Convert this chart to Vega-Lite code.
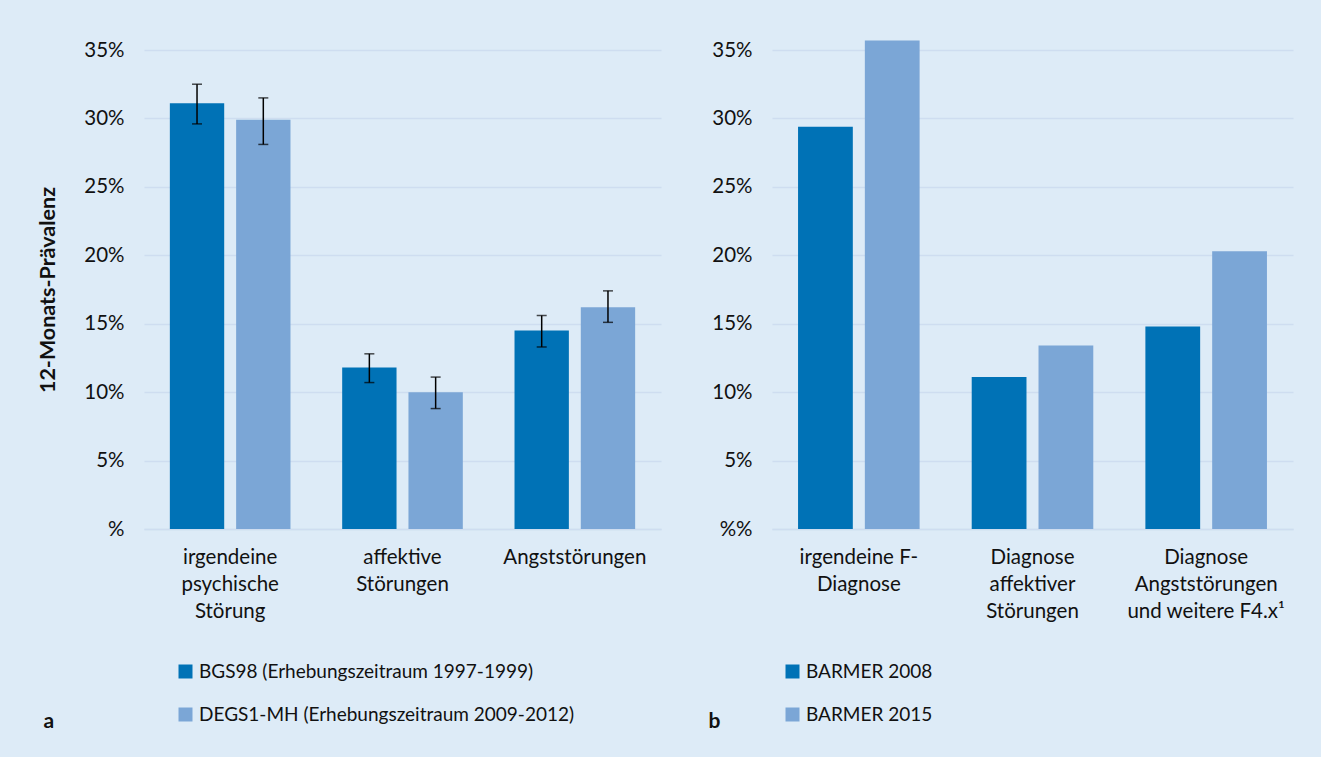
{
  "$schema": "https://vega.github.io/schema/vega-lite/v6.json",
  "background": "#DDEBF7",
  "padding": {"left": 37, "top": 40, "right": 29, "bottom": 28},
  "spacing": 47,
  "config": {
    "font": "Lato",
    "view": {"stroke": null},
    "axis": {
      "labelFontSize": 20.5,
      "labelColor": "#111111",
      "titleColor": "#111111",
      "ticks": false,
      "labelLimit": 400
    },
    "axisY": {
      "domain": false,
      "grid": true,
      "gridColor": "#CEDDF0",
      "gridWidth": 1.5,
      "labelPadding": 20,
      "titleFontSize": 21.5,
      "titleFontWeight": "bold",
      "titlePadding": 24
    },
    "axisX": {
      "domain": true,
      "domainColor": "#CEDDF0",
      "domainWidth": 1.5,
      "grid": false,
      "labelAngle": 0,
      "labelPadding": 18,
      "labelLineHeight": 27,
      "titleFontSize": 21,
      "titleFontWeight": "bold",
      "titleAlign": "left",
      "titleBaseline": "alphabetic"
    },
    "legend": {
      "orient": "none",
      "direction": "vertical",
      "symbolType": "square",
      "symbolSize": 196,
      "symbolStrokeWidth": 0,
      "labelFontSize": 19,
      "labelColor": "#111111",
      "labelOffset": 4,
      "rowPadding": 23,
      "labelLimit": 500
    }
  },
  "datasets": {
    "left": [
      {"category": "irgendeine|psychische|Störung", "series": "BGS98 (Erhebungszeitraum 1997-1999)", "value": 31.1, "lo": 29.6, "hi": 32.5},
      {"category": "irgendeine|psychische|Störung", "series": "DEGS1-MH (Erhebungszeitraum 2009-2012)", "value": 29.9, "lo": 28.1, "hi": 31.5},
      {"category": "affektive|Störungen", "series": "BGS98 (Erhebungszeitraum 1997-1999)", "value": 11.8, "lo": 10.7, "hi": 12.8},
      {"category": "affektive|Störungen", "series": "DEGS1-MH (Erhebungszeitraum 2009-2012)", "value": 10.0, "lo": 8.8, "hi": 11.1},
      {"category": "Angststörungen", "series": "BGS98 (Erhebungszeitraum 1997-1999)", "value": 14.5, "lo": 13.3, "hi": 15.6},
      {"category": "Angststörungen", "series": "DEGS1-MH (Erhebungszeitraum 2009-2012)", "value": 16.2, "lo": 15.1, "hi": 17.4}
    ],
    "right": [
      {"category": "irgendeine F-|Diagnose", "series": "BARMER 2008", "value": 29.4},
      {"category": "irgendeine F-|Diagnose", "series": "BARMER 2015", "value": 35.7},
      {"category": "Diagnose|affektiver|Störungen", "series": "BARMER 2008", "value": 11.1},
      {"category": "Diagnose|affektiver|Störungen", "series": "BARMER 2015", "value": 13.4},
      {"category": "Diagnose|Angststörungen|und weitere  F4.x¹", "series": "BARMER 2008", "value": 14.8},
      {"category": "Diagnose|Angststörungen|und weitere  F4.x¹", "series": "BARMER 2015", "value": 20.3}
    ]
  },
  "resolve": {
    "scale": {"x": "independent", "y": "independent", "xOffset": "independent", "color": "independent"},
    "legend": {"color": "independent"}
  },
  "hconcat": [
    {
      "width": 517,
      "height": 479,
      "data": {"name": "left"},
      "encoding": {
        "x": {
          "field": "category", "type": "nominal", "sort": null,
          "scale": {"paddingInner": 0.3, "paddingOuter": 0.15},
          "axis": {"title": "a", "titleX": -101, "titleY": 198, "labelExpr": "split(datum.label, '|')"}
        },
        "xOffset": {"field": "series", "type": "nominal", "sort": null, "scale": {"paddingInner": 0.18}}
      },
      "layer": [
        {
          "mark": {"type": "bar"},
          "encoding": {
            "y": {
              "field": "value", "type": "quantitative",
              "scale": {"domain": [0, 35], "nice": false},
              "axis": {"title": "12-Monats-Prävalenz", "values": [0, 5, 10, 15, 20, 25, 30, 35], "labelExpr": "datum.value == 0 ? '%' : datum.value + '%'"}
            },
            "color": {
              "field": "series", "type": "nominal", "sort": null,
              "scale": {"range": ["#0072B6", "#7BA6D6"]},
              "legend": {"title": null, "legendX": 32, "legendY": 612}
            }
          }
        },
        {
          "mark": {"type": "rule", "color": "#000000", "strokeWidth": 1.5},
          "encoding": {
            "y": {"field": "lo", "type": "quantitative", "scale": {"domain": [0, 35], "nice": false},
              "axis": {"title": "12-Monats-Prävalenz", "values": [0, 5, 10, 15, 20, 25, 30, 35], "labelExpr": "datum.value == 0 ? '%' : datum.value + '%'"}},
            "y2": {"field": "hi"}
          }
        },
        {
          "mark": {"type": "tick", "color": "#000000", "size": 10, "thickness": 1.5},
          "encoding": {
            "y": {"field": "lo", "type": "quantitative", "scale": {"domain": [0, 35], "nice": false},
              "axis": {"title": "12-Monats-Prävalenz", "values": [0, 5, 10, 15, 20, 25, 30, 35], "labelExpr": "datum.value == 0 ? '%' : datum.value + '%'"}}
          }
        },
        {
          "mark": {"type": "tick", "color": "#000000", "size": 10, "thickness": 1.5},
          "encoding": {
            "y": {"field": "hi", "type": "quantitative", "scale": {"domain": [0, 35], "nice": false},
              "axis": {"title": "12-Monats-Prävalenz", "values": [0, 5, 10, 15, 20, 25, 30, 35], "labelExpr": "datum.value == 0 ? '%' : datum.value + '%'"}}
          }
        }
      ]
    },
    {
      "width": 521,
      "height": 479,
      "data": {"name": "right"},
      "mark": {"type": "bar"},
      "encoding": {
        "x": {
          "field": "category", "type": "nominal", "sort": null,
          "scale": {"paddingInner": 0.3, "paddingOuter": 0.15},
          "axis": {"title": "b", "titleX": -64, "titleY": 198, "labelExpr": "split(datum.label, '|')"}
        },
        "xOffset": {"field": "series", "type": "nominal", "sort": null, "scale": {"paddingInner": 0.18}},
        "y": {
          "field": "value", "type": "quantitative",
          "scale": {"domain": [0, 35], "nice": false},
          "axis": {"title": null, "values": [0, 5, 10, 15, 20, 25, 30, 35], "labelExpr": "datum.value == 0 ? '%%' : datum.value + '%'"}
        },
        "color": {
          "field": "series", "type": "nominal", "sort": null,
          "scale": {"range": ["#0072B6", "#7BA6D6"]},
          "legend": {"title": null, "legendX": 11, "legendY": 612}
        }
      }
    }
  ]
}
